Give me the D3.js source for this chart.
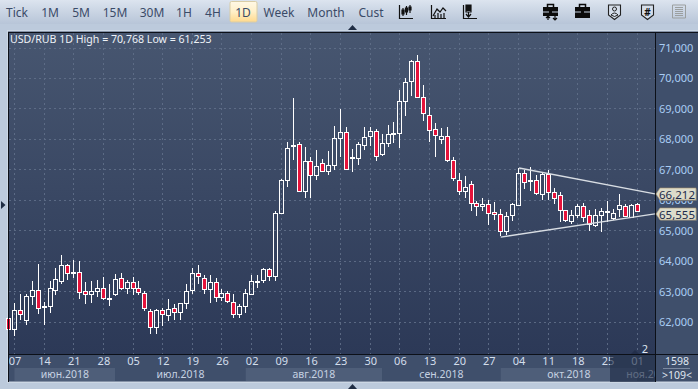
<!DOCTYPE html>
<html>
<head>
<meta charset="utf-8">
<script src="https://cdn.jsdelivr.net/npm/d3@7"></script>
<style>
    html, body { margin: 0; padding: 0; background: #bccadc; overflow: hidden; }
    svg { display: block; }
    text { font-family: "Noto Sans", sans-serif; }
</style>
</head>
<body>
<svg width="698" height="389"></svg>
<script>
// daily USD/RUB candles
const openPrices = [62.12,61.78,62.39,62.08,62.85,63.04,62.50,62.54,63.06,63.36,63.86,63.60,63.63,63.01,62.91,63.01,63.11,62.75,62.91,63.44,63.11,63.31,63.11,62.94,62.35,61.83,62.39,62.22,62.45,62.32,62.62,63.04,63.60,63.44,63.08,63.31,62.81,62.94,62.65,62.26,62.52,62.92,63.34,63.37,63.73,63.50,65.57,66.66,67.77,67.84,66.29,67.28,66.82,67.21,66.95,67.15,68.03,68.23,67.38,67.38,67.81,68.10,68.26,67.51,67.87,68.17,68.20,69.25,69.91,70.56,69.38,68.79,68.33,68.00,68.10,67.31,66.66,66.29,66.52,65.90,65.80,65.87,65.60,65.54,64.98,65.51,65.85,66.89,66.62,66.66,66.20,66.85,66.26,66.16,65.67,65.31,65.51,65.80,65.51,65.18,65.51,65.60,65.41,65.70,65.80,65.44,65.87]
const closePrices = [61.78,62.39,62.28,62.85,63.04,62.47,62.54,63.11,63.41,63.86,63.60,63.63,62.98,62.91,63.01,63.11,62.78,62.78,63.41,63.11,63.31,63.11,62.98,62.47,61.83,62.39,62.26,62.42,62.32,62.62,63.01,63.60,63.50,63.08,63.31,62.81,62.94,62.68,62.26,62.52,62.94,63.34,63.35,63.73,63.50,65.57,66.66,67.71,67.81,66.29,67.28,66.82,67.11,66.95,67.15,68.03,68.23,67.02,67.41,67.84,68.07,68.26,67.44,67.87,68.17,68.20,69.25,69.87,70.56,69.38,68.86,68.30,68.13,68.10,67.31,66.72,66.29,66.43,65.90,65.80,65.87,65.57,65.54,64.98,65.47,65.87,66.89,66.59,66.66,66.23,66.85,66.26,66.06,65.67,65.34,65.51,65.80,65.44,65.21,65.51,65.64,65.64,65.57,65.83,65.47,65.84,65.64]
const highPrices = [62.33,62.63,62.92,62.92,63.35,63.91,62.66,63.35,63.78,64.20,63.91,64.04,64.00,63.32,63.35,63.38,63.48,63.25,63.58,63.61,63.38,63.48,63.35,63.02,62.43,62.43,62.46,62.76,62.59,62.63,63.25,63.78,63.87,63.55,63.55,63.45,63.09,63.02,62.92,62.59,63.09,63.55,63.55,63.78,63.78,65.65,66.70,67.91,69.36,67.91,67.75,67.42,67.65,67.35,67.62,68.44,69.00,68.41,67.68,67.91,68.41,68.41,68.34,68.18,68.47,68.57,69.62,70.02,70.61,70.77,69.79,69.06,68.54,68.37,68.41,67.42,66.89,66.80,66.63,65.98,66.07,66.01,65.94,65.71,65.61,65.91,67.06,67.00,67.09,66.83,66.90,67.00,66.40,66.27,65.68,65.68,65.88,65.91,65.68,65.71,65.75,65.98,65.71,66.21,65.88,65.88,65.91]
const lowPrices = [61.64,61.54,62.07,61.90,62.56,62.26,61.90,62.30,62.89,63.25,63.38,63.45,62.76,62.59,62.63,62.82,62.72,62.53,62.86,63.05,62.92,62.89,62.89,62.36,61.61,61.61,61.87,62.04,62.07,62.07,62.43,62.92,63.25,62.92,62.63,62.66,62.69,62.63,62.13,62.13,62.30,62.89,63.12,63.28,63.35,63.35,65.55,66.43,67.32,66.29,66.07,66.07,66.66,66.93,66.83,66.99,67.42,66.99,66.93,67.16,67.65,67.78,67.29,67.45,67.75,67.88,67.71,68.77,69.42,69.38,68.60,67.91,67.42,67.85,67.26,66.63,66.17,66.07,65.65,65.48,65.65,65.19,65.35,64.83,64.86,65.32,65.81,66.37,66.30,66.17,66.01,66.01,65.88,65.29,65.29,65.22,65.42,65.29,64.99,65.12,64.96,65.29,65.35,65.45,65.45,65.44,65.61]

const priceTicks = [62, 63, 64, 65, 66, 67, 68, 69, 70, 71]
const dateLabels = ['07','14','21','28','05','12','19','26','02','09','16','23','30','06','13','20','27','04','11','18','25','01']
const monthLabels = ['июн.2018','июл.2018','авг.2018','сен.2018','окт.2018','ноя.2018']
const monthStarts = [1, 18, 40, 63, 83, 106]
const monthEnds = [18, 40, 63, 83, 106, 110]
const toolbarLabels = ['Tick','1M','5M','15M','30M','1H','4H','1D','Week','Month','Cust']
const toolbarCenters = [17, 50, 81, 115, 152, 184, 213, 243, 279, 326, 371]

// trend lines: [candle index, price] at each end
const trendUpper = [[86.1, 67.06], [109, 66.212]]
const trendLower = [[83, 64.79], [109, 65.555]]
const lastLabels = [66.212, 65.555]

const svg = d3.select('svg')
const candles = openPrices.map((open, i) => ({
    i, open, close: closePrices[i], high: highPrices[i], low: lowPrices[i]
}))

const plot = { left: 9, right: 655, top: 33, bottom: 354 }
const xScale = d3.scaleLinear().domain([0, 106]).range([8.5, 637.1])
const yScale = d3.scaleLinear().domain([62, 71]).range([322.1, 48])
const crisp = v => Math.floor(v) + 0.5
const priceFormat = d => d3.format('.3f')(d).replace('.', ',')

const defs = svg.append('defs')
const addGradient = (id, stops) => {
    const g = defs.append('linearGradient').attr('id', id).attr('x2', 0).attr('y2', 1)
    stops.forEach((c, i) => g.append('stop').attr('offset', i / (stops.length - 1)).attr('stop-color', c))
}
addGradient('plotBg', ['#475670', '#2c3957'])
addGradient('barBg', ['#dce4ef', '#c9d4e3', '#b7c5d8'])
addGradient('activeBg', ['#fff8e6', '#fff0c8', '#ffd98c'])
defs.append('clipPath').attr('id', 'axisClip').append('rect')
    .attr('x', 9).attr('y', 355).attr('width', 646).attr('height', 27)

// toolbar
svg.append('rect').attr('width', 698).attr('height', 24).attr('fill', 'url(#barBg)')
svg.append('rect').attr('x', 230).attr('y', 1.5).attr('width', 27).attr('height', 20.5).attr('rx', 1.5)
    .attr('fill', 'url(#activeBg)').attr('stroke', '#d9cda6')
svg.append('g').selectAll('text').data(toolbarLabels).enter().append('text')
    .attr('x', (d, i) => toolbarCenters[i])
    .attr('y', 16.5)
    .attr('text-anchor', 'middle')
    .attr('font-size', 12)
    .attr('fill', '#3b4b68')
    .text(d => d)

// toolbar icons
const icon = (d, color = '#111', width = 1.2, fill = 'none') => svg.append('path')
    .attr('d', d).attr('fill', fill).attr('stroke', color).attr('stroke-width', width)
icon('M399.5 5V18.5H413M403 8V16M406.5 6V15M410 5V13M402 10h2v4h-2zM405.5 8h2v4h-2zM409 7h2v3h-2z')
icon('M431.5 5V18.5H446M433 16L437 9L440 12L443 8L446 11M435 18V15M438 18V13M441 18V14M444 18V13')
icon('M463.5 5V18.5H477M466 5h5v7h-5zM468.5 12v4M466 14l2.5 3l2.5-3', '#111', 1.2)
svg.append('rect').attr('x', 466).attr('y', 5).attr('width', 5).attr('height', 6).attr('fill', '#111')
// briefcases
const briefcase = (x, arrows) => {
    svg.append('rect').attr('x', x).attr('y', 7).attr('width', 15).attr('height', arrows ? 9 : 11).attr('fill', '#0b0b0b')
    icon(`M${x + 4.5} 7V4.5h6V7`, '#0b0b0b', 1.5)
    svg.append('rect').attr('x', x).attr('y', 11.5).attr('width', 15).attr('height', 1).attr('fill', '#c3cfe0')
    svg.append('rect').attr('x', x + 6).attr('y', 10.5).attr('width', 3).attr('height', 3).attr('fill', '#0b0b0b')
    if (arrows) {
        icon(`M${x + 5} 20V16M${x + 3} 18l2 -2l2 2`, '#0b0b0b', 1.2)
        icon(`M${x + 12} 16V20M${x + 10} 18l2 2l2 -2`, '#0b0b0b', 1.2)
    }
}
briefcase(543, true)
briefcase(575, false)
// shields
const shield = x => icon(`M${x} 5H${x + 12}V15L${x + 6} 19.5L${x} 15Z`, '#222', 1.1, '#d5deea')
shield(608.5)
shield(641.5)
svg.append('circle').attr('cx', 614.5).attr('cy', 9).attr('r', 2).attr('fill', 'none').attr('stroke', '#222')
icon('M611 15q3.5-4 7 0q-3.5 3-7 0Z', '#222', 1)
svg.append('text').attr('x', 647.5).attr('y', 15.5).attr('text-anchor', 'middle')
    .attr('font-size', 10).attr('font-weight', 700).attr('fill', '#111').text('#')
// table icon
icon('M672.5 5h13v13h-13zM675 7.5h8M675 9.5h8M675 11.5h8M675 13.5h8M675 15.5h8', '#9b9f9f', 1)

// frame
svg.append('rect').attr('x', 7).attr('y', 30).attr('width', 691).attr('height', 353).attr('fill', '#ccd7e4')
svg.append('rect').attr('x', 8).attr('y', 31.5).attr('width', 690).attr('height', 350).attr('fill', '#3f4f6b')

// plot background and grid
svg.append('rect').attr('x', plot.left).attr('y', plot.top)
    .attr('width', plot.right - plot.left).attr('height', plot.bottom - plot.top)
    .attr('fill', 'url(#plotBg)')

const gridG = svg.append('g')
    .attr('stroke', '#62718b').attr('stroke-dasharray', '2,3').attr('stroke-width', 1).attr('opacity', 0.85)
gridG.selectAll('.h').data(priceTicks).enter().append('line')
    .attr('x1', plot.left).attr('x2', plot.right)
    .attr('y1', d => crisp(yScale(d))).attr('y2', d => crisp(yScale(d)))
gridG.selectAll('.v').data(dateLabels).enter().append('line')
    .attr('x1', (d, i) => crisp(xScale(1 + i * 5))).attr('x2', (d, i) => crisp(xScale(1 + i * 5)))
    .attr('y1', plot.top).attr('y2', plot.bottom)

// month bands under the date axis
const bands = svg.append('g').attr('clip-path', 'url(#axisClip)')
bands.selectAll('rect').data(monthLabels).enter().append('rect')
    .attr('x', (d, i) => xScale(monthStarts[i]))
    .attr('width', (d, i) => xScale(monthEnds[i]) - xScale(monthStarts[i]))
    .attr('y', 368).attr('height', 13)
    .attr('fill', (d, i) => i % 2 ? '#3f4f6b' : '#4e5e79')
bands.selectAll('text').data(monthLabels).enter().append('text')
    .attr('x', (d, i) => (xScale(monthStarts[i]) + xScale(monthEnds[i])) / 2)
    .attr('y', 378)
    .attr('text-anchor', 'middle')
    .attr('font-size', 10.5)
    .attr('fill', '#c6d2e2')
    .text(d => d)

// date axis
const xAxis = d3.axisBottom(xScale)
    .tickValues(dateLabels.map((d, i) => 1 + i * 5))
    .tickFormat((d, i) => dateLabels[i])
    .tickSize(0)
    .tickPadding(2)
const xAxisG = svg.append('g').attr('transform', 'translate(0,355)').call(xAxis)
xAxisG.select('.domain').remove()
xAxisG.selectAll('text').attr('font-size', 11).attr('font-family', null).attr('fill', '#d3deeb')

// dimmed box over the latest dates
svg.append('rect').attr('x', 610).attr('y', 355).attr('width', 45).attr('height', 27)
    .attr('fill', '#1f2b45').attr('opacity', 0.62)
svg.append('path').attr('d', 'M630 355L635 350L640 355Z').attr('fill', '#232f4b')

// candles: wicks stop at the body so the hollow ones show the background
const bodyTop = d => Math.round(yScale(Math.max(d.open, d.close)))
const bodyBottom = d => Math.max(bodyTop(d) + 1, Math.round(yScale(Math.min(d.open, d.close))))
const candleG = svg.selectAll('.candle').data(candles).enter().append('g')
    .attr('class', 'candle')
    .attr('transform', d => `translate(${crisp(xScale(d.i))},0)`)
candleG.append('line')
    .attr('y1', d => Math.round(yScale(d.high)))
    .attr('y2', d => bodyTop(d))
    .attr('stroke', '#fff')
candleG.append('line')
    .attr('y1', d => bodyBottom(d))
    .attr('y2', d => Math.round(yScale(d.low)))
    .attr('stroke', '#fff')
candleG.append('rect')
    .attr('x', -2)
    .attr('width', 4)
    .attr('y', d => bodyTop(d) + 0.5)
    .attr('height', d => bodyBottom(d) - bodyTop(d))
    .attr('fill', d => d.close < d.open ? '#e5133b' : 'none')
    .attr('stroke', '#fff')

// trend lines
const priceLine = d3.line().x(d => xScale(d[0])).y(d => yScale(d[1]))
svg.selectAll('.trend').data([trendUpper, trendLower]).enter().append('path')
    .attr('class', 'trend')
    .attr('d', priceLine)
    .attr('fill', 'none')
    .attr('stroke', '#d8dde3')
    .attr('stroke-width', 1.4)

// frame lines
const frameLines = svg.append('g').attr('stroke', '#0c1018').attr('stroke-width', 1)
frameLines.append('line').attr('x1', 8.5).attr('x2', 8.5).attr('y1', 32).attr('y2', 382)
frameLines.append('line').attr('x1', 8).attr('x2', 698).attr('y1', 32.5).attr('y2', 32.5)
frameLines.append('line').attr('x1', 8).attr('x2', 698).attr('y1', 354.5).attr('y2', 354.5)
frameLines.append('line').attr('x1', 655.5).attr('x2', 655.5).attr('y1', 32).attr('y2', 382)

// price axis
const yAxis = d3.axisRight(yScale)
    .tickValues(priceTicks)
    .tickFormat(priceFormat)
    .tickSize(0)
    .tickPadding(4)
const yAxisG = svg.append('g').attr('transform', 'translate(655,0)').call(yAxis)
yAxisG.select('.domain').remove()
yAxisG.selectAll('text').attr('font-size', 11).attr('font-family', null).attr('fill', '#a9cdf4')

// last value tags
const tagG = svg.selectAll('.tag').data(lastLabels).enter().append('g')
    .attr('class', 'tag')
    .attr('transform', d => `translate(0,${Math.round(yScale(d))})`)
tagG.append('path')
    .attr('d', 'M657 1L661 -5H697V7H661Z')
    .attr('fill', '#5d6a7e')
tagG.append('path')
    .attr('d', 'M656 0L660 -6H696V6H660Z')
    .attr('fill', '#dcdccb')
    .attr('stroke', '#a8926a')
    .attr('stroke-width', 0.6)
tagG.append('text')
    .attr('x', 659)
    .attr('y', 4.5)
    .attr('font-size', 11.5)
    .attr('fill', '#1d2b4a')
    .text(priceFormat)

// misc texts
svg.append('text').attr('x', 10).attr('y', 43).attr('font-size', 10.6).attr('fill', '#eef2f7')
    .text('USD/RUB 1D High = 70,768 Low = 61,253')
svg.append('text').attr('x', 645).attr('y', 353).attr('text-anchor', 'middle').attr('font-size', 11)
    .attr('fill', '#dfe6f0').text('2')
svg.append('text').attr('x', 677).attr('y', 365).attr('text-anchor', 'middle').attr('font-size', 10.5)
    .attr('fill', '#dfe6f0').text('1598')
svg.append('line').attr('x1', 663).attr('x2', 690).attr('y1', 368.5).attr('y2', 368.5).attr('stroke', '#7a889f')
svg.append('text').attr('x', 677).attr('y', 379).attr('text-anchor', 'middle').attr('font-size', 10.5)
    .attr('fill', '#dfe6f0').text('>109<')

// scroll markers
const markers = svg.append('g').attr('fill', '#1f2d44')
markers.append('path').attr('d', 'M348 30L352.5 25L357 30Z')
markers.append('path').attr('d', 'M348 389L352.5 384L357 389Z')
markers.append('path').attr('d', 'M1 201L5.5 205L1 209Z')
</script>
</body>
</html>
